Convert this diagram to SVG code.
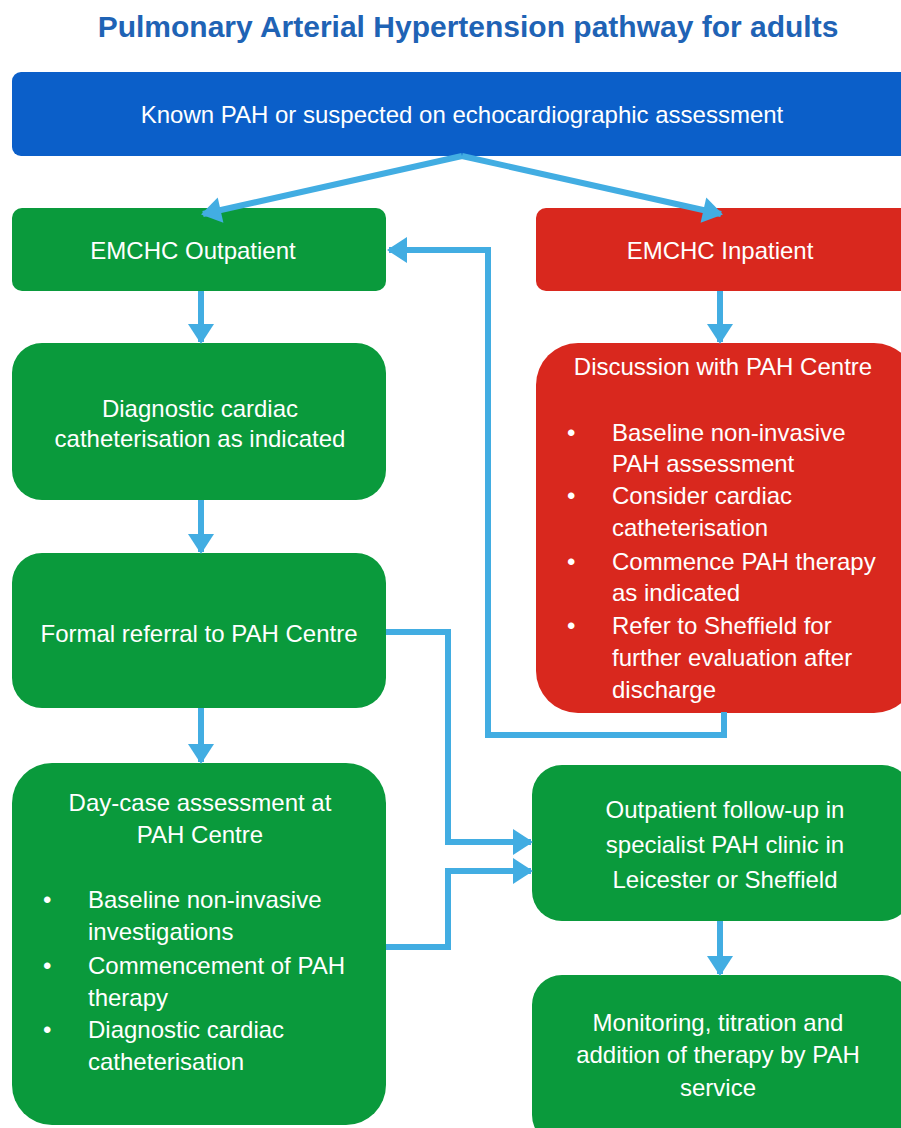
<svg xmlns="http://www.w3.org/2000/svg" width="901" height="1128" viewBox="0 0 901 1128">
<style>
.t{font-family:"Liberation Sans",Arial,sans-serif;fill:#fff;font-size:24px}
.c{text-anchor:middle}
.title{font-family:"Liberation Sans",Arial,sans-serif;font-weight:bold;fill:#1F63B5;font-size:30px;text-anchor:middle}
.g{fill:#0A9A3C}
.r{fill:#D9281E}
.b{fill:#0B5FC9}
.con path{fill:none;stroke:#42ADE2;stroke-width:6;stroke-linejoin:miter}
</style>
<defs>
<marker id="ah" markerUnits="userSpaceOnUse" markerWidth="22" markerHeight="26" refX="18" refY="13" orient="auto" viewBox="0 0 20 26">
<path d="M0,0 L20,13 L0,26 Z" fill="#42ADE2"/>
</marker>
</defs>
<text class="title" x="468" y="37">Pulmonary Arterial Hypertension pathway for adults</text>

<g id="n-known">
<rect class="b" x="12" y="72" width="900" height="84" rx="9"/>
<text class="t c" x="462" y="123">Known PAH or suspected on echocardiographic assessment</text>
</g>
<g id="n-outpatient">
<rect class="g" x="12" y="208" width="374" height="83" rx="10"/>
<text class="t c" x="193" y="259">EMCHC Outpatient</text>
</g>
<g id="n-inpatient">
<rect class="r" x="536" y="208" width="380" height="83" rx="10"/>
<text class="t c" x="720" y="259">EMCHC Inpatient</text>
</g>
<g id="n-diag">
<rect class="g" x="12" y="343" width="374" height="157" rx="30"/>
<text class="t c" x="200" y="417">Diagnostic cardiac</text>
<text class="t c" x="200" y="447">catheterisation as indicated</text>
</g>
<g id="n-discussion">
<rect class="r" x="536" y="343" width="380" height="370" rx="42"/>
<text class="t c" x="723" y="375">Discussion with PAH Centre</text>
<text class="t" x="567" y="441">•</text><text class="t" x="612" y="441">Baseline non-invasive</text>
<text class="t" x="612" y="472">PAH assessment</text>
<text class="t" x="567" y="504">•</text><text class="t" x="612" y="504">Consider cardiac</text>
<text class="t" x="612" y="536">catheterisation</text>
<text class="t" x="567" y="570">•</text><text class="t" x="612" y="570">Commence PAH therapy</text>
<text class="t" x="612" y="601">as indicated</text>
<text class="t" x="567" y="634">•</text><text class="t" x="612" y="634">Refer to Sheffield for</text>
<text class="t" x="612" y="666">further evaluation after</text>
<text class="t" x="612" y="698">discharge</text>
</g>
<g id="n-referral">
<rect class="g" x="12" y="553" width="374" height="155" rx="30"/>
<text class="t c" x="199" y="642">Formal referral to PAH Centre</text>
</g>
<g id="n-daycase">
<rect class="g" x="12" y="763" width="374" height="362" rx="40"/>
<text class="t c" x="200" y="811">Day-case assessment at</text>
<text class="t c" x="200" y="843">PAH Centre</text>
<text class="t" x="43" y="908">•</text><text class="t" x="88" y="908">Baseline non-invasive</text>
<text class="t" x="88" y="940">investigations</text>
<text class="t" x="43" y="974">•</text><text class="t" x="88" y="974">Commencement of PAH</text>
<text class="t" x="88" y="1006">therapy</text>
<text class="t" x="43" y="1038">•</text><text class="t" x="88" y="1038">Diagnostic cardiac</text>
<text class="t" x="88" y="1070">catheterisation</text>
</g>
<g id="n-followup">
<rect class="g" x="532" y="765" width="380" height="156" rx="30"/>
<text class="t c" x="725" y="818">Outpatient follow-up in</text>
<text class="t c" x="725" y="853">specialist PAH clinic in</text>
<text class="t c" x="725" y="888">Leicester or Sheffield</text>
</g>
<g id="n-monitor">
<rect class="g" x="532" y="975" width="380" height="170" rx="30"/>
<text class="t c" x="718" y="1031">Monitoring, titration and</text>
<text class="t c" x="718" y="1063">addition of therapy by PAH</text>
<text class="t c" x="718" y="1096">service</text>
</g>

<g id="connectors" class="con">
<path d="M462,156 L203,214" marker-end="url(#ah)"/>
<path d="M462,156 L721,214" marker-end="url(#ah)"/>
<path d="M201,291 L201,342" marker-end="url(#ah)"/>
<path d="M201,500 L201,552" marker-end="url(#ah)"/>
<path d="M201,708 L201,762" marker-end="url(#ah)"/>
<path d="M720,291 L720,342" marker-end="url(#ah)"/>
<path d="M724,712 L724,735 L488,735 L488,250 L389,250" marker-end="url(#ah)"/>
<path d="M386,632 L448,632 L448,842 L531,842" marker-end="url(#ah)"/>
<path d="M386,947 L448,947 L448,871 L531,871" marker-end="url(#ah)"/>
<path d="M720,921 L720,974" marker-end="url(#ah)"/>
</g>
</svg>
